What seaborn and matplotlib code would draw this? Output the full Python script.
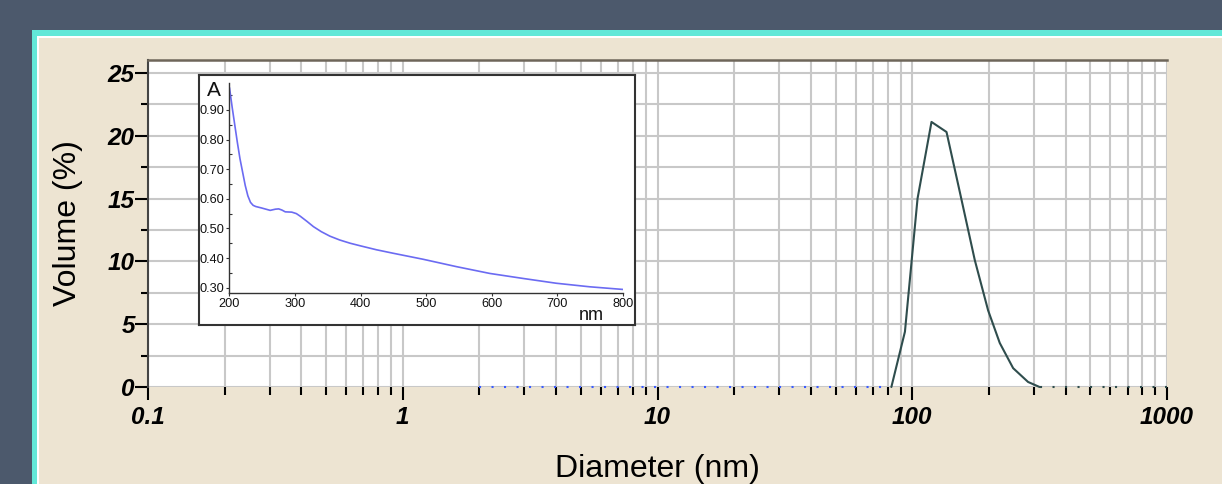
import numpy as np
import pandas as pd
import seaborn as sns
import matplotlib.pyplot as plt
from matplotlib.patches import Rectangle
from matplotlib.ticker import LogLocator, NullFormatter, FixedLocator, MultipleLocator, FormatStrFormatter

# DLS size distribution (volume %)
size_nm = [2.0, 82.8, 93.6, 104.9, 119.0, 136.3, 153.8, 176.0, 198.5, 220.6, 248.9, 284.9, 316.0, 1000.0]
volume_pct = [0.0, 0.0, 4.4, 15.0, 21.1, 20.3, 15.5, 10.1, 6.1, 3.5, 1.5, 0.4, 0.0, 0.0]

# UV-Vis absorbance spectrum (inset)
wavelength_nm = [200, 204, 208, 212, 216, 220, 224, 228, 232, 236, 240, 249, 262, 270, 275, 280,
                 285, 295, 302, 308, 318, 328, 340, 353, 368, 384, 400, 424, 450, 495, 546, 597,
                 648, 698, 749, 800]
absorbance = [0.975, 0.91, 0.85, 0.79, 0.735, 0.69, 0.645, 0.61, 0.588, 0.578, 0.574, 0.569, 0.561,
              0.565, 0.566, 0.562, 0.556, 0.555, 0.550, 0.541, 0.524, 0.506, 0.489, 0.474, 0.461,
              0.450, 0.441, 0.428, 0.416, 0.396, 0.371, 0.348, 0.331, 0.315, 0.303, 0.294]

x_ticks = [0.1, 1, 10, 100, 1000]
x_ticklabels = ["0.1", "1", "10", "100", "1000"]
y_ticks = [0, 5, 10, 15, 20, 25]
inset_xticks = [200, 300, 400, 500, 600, 700, 800]
inset_yticks = [0.30, 0.40, 0.50, 0.60, 0.70, 0.80, 0.90]

W, H = 1222, 484

sns.set_style("white")
plt.rcParams["font.family"] = ["Liberation Sans", "DejaVu Sans"]

fig = plt.figure(figsize=(W / 100, H / 100), dpi=100)
fig.patch.set_facecolor("#4c596c")

# panel: turquoise border, thin white line, beige fill
fig.patches.append(Rectangle((32 / W, 0), 1, 1 - 30 / H, transform=fig.transFigure,
                             facecolor="#62e8d8", edgecolor="none", zorder=-10))
fig.patches.append(Rectangle((37 / W, 0), 1, 1 - 36 / H, transform=fig.transFigure,
                             facecolor="white", edgecolor="none", zorder=-9))
fig.patches.append(Rectangle((39 / W, 0), 1, 1 - 38 / H, transform=fig.transFigure,
                             facecolor="#ede4d2", edgecolor="none", zorder=-8))

# main axes
ax = fig.add_axes([148 / W, 1 - 387 / H, (1167 - 148) / W, (387 - 60) / H])
ax.set_facecolor("white")

df = pd.DataFrame({"size": size_nm, "volume": volume_pct})
lead = df.iloc[:2]
peak = df.iloc[1:-1]
tail = df.iloc[-2:]

sns.lineplot(data=lead, x="size", y="volume", ax=ax, color="#3a5cff", lw=1.5,
             linestyle=(0, (1, 5)), estimator=None, sort=False, clip_on=False, zorder=4)
sns.lineplot(data=peak, x="size", y="volume", ax=ax, color="#2f4d4d", lw=1.5,
             estimator=None, sort=False, clip_on=False, zorder=4)
sns.lineplot(data=tail, x="size", y="volume", ax=ax, color="#2f4d4d", lw=1.5,
             linestyle=(0, (1, 5)), estimator=None, sort=False, clip_on=False, zorder=4)

ax.set_xscale("log")
ax.set_xlim(0.1, 1000)
ax.set_ylim(0, 26.03)

ax.xaxis.set_major_locator(FixedLocator(x_ticks))
ax.set_xticklabels(x_ticklabels)
ax.xaxis.set_minor_locator(LogLocator(base=10, subs=np.arange(2, 10)))
ax.xaxis.set_minor_formatter(NullFormatter())
ax.set_yticks(y_ticks)
ax.yaxis.set_minor_locator(MultipleLocator(2.5))

ax.grid(True, which="both", color="#c8c8c8", lw=1.5)
ax.set_axisbelow(True)

for side in ["right", "bottom"]:
    ax.spines[side].set_visible(False)
ax.spines["left"].set_color("#444444")
ax.spines["left"].set_linewidth(1.5)
ax.spines["top"].set_color("#6e665a")
ax.spines["top"].set_linewidth(1.8)

ax.tick_params(bottom=True, left=True, which="both")
ax.tick_params(axis="x", which="major", direction="out", length=9, width=1.5, color="black",
               pad=5, labelcolor="black")
ax.tick_params(axis="x", which="minor", direction="out", length=5.5, width=1.5, color="black")
ax.tick_params(axis="y", which="major", direction="out", length=9.5, width=1.5, color="black",
               pad=0, labelcolor="black")
ax.tick_params(axis="y", which="minor", direction="out", length=5, width=1.5, color="black")
for lab in ax.get_xticklabels() + ax.get_yticklabels():
    lab.set_fontsize(17.5)
    lab.set_fontweight("bold")
    lab.set_fontstyle("italic")

ax.set_xlabel("Diameter (nm)", fontsize=23, color="black")
ax.set_ylabel("Volume (%)", fontsize=23, color="black")
ax.xaxis.set_label_coords(0.5, -0.205)
ax.xaxis.label.set_va("top")
ax.yaxis.set_label_coords(-0.064, 0.5)

# inset frame (white box)
frame = fig.add_axes([199 / W, 1 - 325 / H, (635 - 199) / W, (325 - 75) / H])
frame.set_facecolor("white")
frame.set_xticks([])
frame.set_yticks([])
for s in frame.spines.values():
    s.set_color("#333333")
    s.set_linewidth(1.5)

# inset spectrum
ins = fig.add_axes([229.5 / W, 1 - 293 / H, (623 - 229.5) / W, (293 - 83) / H])
ins.patch.set_alpha(0)
spec = pd.DataFrame({"wl": wavelength_nm, "A": absorbance})
sns.lineplot(data=spec, x="wl", y="A", ax=ins, color="#6b6bf2", lw=1.2, estimator=None, sort=False)
ins.set_xlim(200, 800)
ins.set_ylim(0.282, 0.991)
ins.set_xticks(inset_xticks)
ins.set_yticks(inset_yticks)
ins.yaxis.set_major_formatter(FormatStrFormatter("%.2f"))
ins.yaxis.set_minor_locator(MultipleLocator(0.05))
for side in ["right", "top"]:
    ins.spines[side].set_visible(False)
for side in ["left", "bottom"]:
    ins.spines[side].set_color("#333333")
    ins.spines[side].set_linewidth(1.0)
ins.tick_params(bottom=True, left=True, which="both")
ins.tick_params(axis="both", which="major", direction="out", length=2.5, width=0.8,
                labelsize=9.2, pad=1, color="#333333", labelcolor="#111111")
ins.tick_params(axis="y", which="minor", direction="in", length=2, width=0.8, color="#333333")
ins.set_xlabel("")
ins.set_ylabel("")

fig.text(207 / W, 1 - 96 / H, "A", fontsize=15, color="#111111", ha="left", va="baseline")
fig.text(591 / W, 1 - 320 / H, "nm", fontsize=13, color="#111111", ha="center", va="baseline")

fig.savefig("out.png", dpi=100, facecolor=fig.get_facecolor())
